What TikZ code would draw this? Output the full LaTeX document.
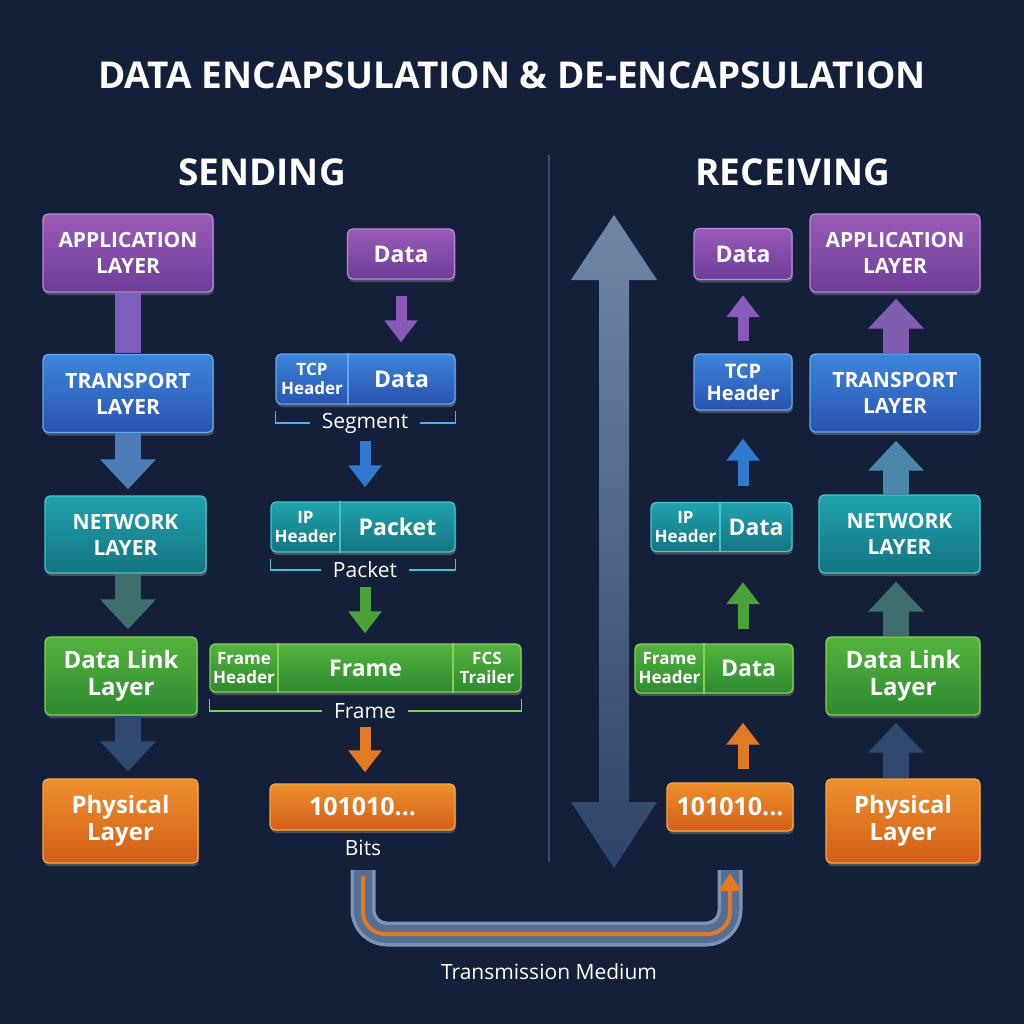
\documentclass[tikz,border=0pt]{standalone}
\usepackage{fontspec}
\setmainfont{Open Sans}
\usetikzlibrary{arrows.meta,shadows}
\definecolor{bg}{HTML}{141F3A}
\definecolor{divc}{HTML}{3A4A6C}
\definecolor{purT}{HTML}{9A5CB8}\definecolor{purB}{HTML}{6D3C97}\definecolor{purE}{HTML}{B889D6}
\definecolor{bluT}{HTML}{3D86DB}\definecolor{bluB}{HTML}{2A52B0}\definecolor{bluE}{HTML}{62A8EE}
\definecolor{teaT}{HTML}{1FA3AE}\definecolor{teaB}{HTML}{157482}\definecolor{teaE}{HTML}{45C3CC}
\definecolor{grnT}{HTML}{55B33E}\definecolor{grnB}{HTML}{2D8A30}\definecolor{grnE}{HTML}{86CF55}
\definecolor{orgT}{HTML}{EE8F2C}\definecolor{orgB}{HTML}{D35E18}\definecolor{orgE}{HTML}{F4A846}
\definecolor{purA}{HTML}{8A5AB8}\definecolor{bluA}{HTML}{2F7AD0}\definecolor{grnA}{HTML}{4BA23A}
\definecolor{orgA}{HTML}{E07A25}
\definecolor{bigT}{HTML}{7088A8}\definecolor{bigB}{HTML}{2E4468}
\definecolor{arPu}{HTML}{7F5EB0}\definecolor{arBl}{HTML}{4D7DB6}\definecolor{arTe}{HTML}{4A87A9}
\definecolor{arGr}{HTML}{3F6E6D}\definecolor{arNv}{HTML}{2F4A70}
\definecolor{pipeE}{HTML}{7C94B6}\definecolor{pipeM}{HTML}{566F95}
\newcommand\titlef{\fontsize{37}{40}\selectfont\bfseries}
\newcommand\laycap{\fontsize{21}{26}\selectfont\bfseries}
\newcommand\laymix{\fontsize{24}{27}\selectfont\bfseries}
\newcommand\boxtx{\fontsize{23}{26}\selectfont\bfseries}
\newcommand\hdtx{\fontsize{17}{19}\selectfont\bfseries}
\newcommand\rhdtx{\fontsize{20}{22}\selectfont\bfseries}
\newcommand\bitstx{\fontsize{25}{28}\selectfont\bfseries}
\newcommand\labtx{\fontsize{21}{24}\selectfont}
\newcommand\medtx{\fontsize{21}{24}\selectfont}
\tikzset{
  lbox/.style={rounded corners=5pt, line width=1.3pt, inner sep=0pt, align=center, text=white,
    drop shadow={opacity=.5, shadow xshift=1pt, shadow yshift=-3pt}},
  purp/.style={draw=purE, top color=purT, bottom color=purB},
  blu/.style={draw=bluE, top color=bluT, bottom color=bluB},
  tea/.style={draw=teaE, top color=teaT, bottom color=teaB},
  grn/.style={draw=grnE, top color=grnT, bottom color=grnB},
  org/.style={draw=orgE, top color=orgT, bottom color=orgB},
  intx/.style={text=white, align=center, inner sep=0pt},
  tlab/.style={font=\labtx, text=white, inner xsep=12pt, inner ysep=1pt},
  brk/.style={line width=1.5pt},
  sep/.style={line width=1.3pt},
  layarr/.style={line width=26pt, -{Triangle[width=54pt,length=30pt]}},
  smarr/.style={line width=11pt, -{Triangle[width=32pt,length=22pt]}},
}
\begin{document}
\begin{tikzpicture}[x=1pt, y=-1pt, line join=round]
\fill[bg] (0,0) rectangle (1024,1024);
% headings
\node[font=\titlef, text=white] (ttl) at (512,75) {DATA ENCAPSULATION \& DE-ENCAPSULATION};
\node[font=\titlef, text=white] (snd) at (262,172) {SENDING};
\node[font=\titlef, text=white] (rcv) at (793,172) {RECEIVING};
% divider and big double arrow
\draw[divc, line width=2pt] (549,155) -- (549,862);
\shade[top color=bigT, bottom color=bigB]
  (614,215) -- (657,280) -- (629,280) -- (629,802) -- (657,802) -- (614,868)
  -- (571,802) -- (599,802) -- (599,280) -- (571,280) -- cycle;
% sending layers
\node[lbox, purp, minimum width=170pt, minimum height=78pt, font=\laycap] (app) at (128,253) {APPLICATION\\LAYER};
\node[lbox, blu, minimum width=170pt, minimum height=78pt, font=\laycap] (trans) at (128,393.5) {TRANSPORT\\LAYER};
\node[lbox, tea, minimum width=161pt, minimum height=77pt, font=\laycap] (net) at (125.5,534.5) {NETWORK\\LAYER};
\node[lbox, grn, minimum width=152pt, minimum height=78pt, font=\laymix] (dl) at (121,676) {Data Link\\Layer};
\node[lbox, org, minimum width=155pt, minimum height=84pt, font=\laymix] (phy) at (120.5,821) {Physical\\Layer};
\draw[line width=26pt, purA!85!bluA] ([yshift=-.7pt]app.south) -- ([yshift=.7pt]trans.north);
\draw[layarr, arBl, shorten >=6pt] (trans.south) -- (trans.south |- net.north);
\draw[layarr, arGr, shorten >=7pt] (app |- net.south) -- (app |- dl.north);
\draw[layarr, arNv, shorten >=7pt] (app |- dl.south) -- (app |- phy.north);
% sending units
\node[lbox, purp, minimum width=107pt, minimum height=50pt, font=\boxtx] (sdata) at (401,254) {Data};
\node[lbox, blu, minimum width=179pt, minimum height=50pt] (sseg) at (365.5,379) {};
\node[intx, font=\hdtx] (ssegh) at (312,379) {TCP\\Header};
\node[intx, font=\boxtx] (ssegd) at (401.5,379) {Data};
\draw[sep, bluE] (348,0 |- sseg.north) -- (348,0 |- sseg.south);
\node[tlab] (ssegl) at (365,423) {Segment};
\draw[brk, bluE] ([yshift=-6pt]sseg.south west) |- (ssegl.west);
\draw[brk, bluE] ([yshift=-6pt]sseg.south east) |- (ssegl.east);

\node[lbox, tea, minimum width=184pt, minimum height=50pt] (spkt) at (363,527) {};
\node[intx, font=\hdtx] (spkth) at (305.5,527) {IP\\Header};
\node[intx, font=\boxtx] (spktd) at (397.5,527) {Packet};
\draw[sep, teaE] (340,0 |- spkt.north) -- (340,0 |- spkt.south);
\node[tlab] (spktl) at (365,570) {Packet};
\draw[brk, teaE] ([yshift=-6pt]spkt.south west) |- (spktl.west);
\draw[brk, teaE] ([yshift=-6pt]spkt.south east) |- (spktl.east);

\node[lbox, grn, minimum width=311pt, minimum height=48pt] (sfrm) at (365.5,668) {};
\node[intx, font=\hdtx] (sfrmh) at (244,668) {Frame\\Header};
\node[intx, font=\boxtx] (sfrmd) at (365.5,668) {Frame};
\node[intx, font=\hdtx] (sfrmt) at (487,668) {FCS\\Trailer};
\draw[sep, grnE] (278,0 |- sfrm.north) -- (278,0 |- sfrm.south);
\draw[sep, grnE] (453,0 |- sfrm.north) -- (453,0 |- sfrm.south);
\node[tlab] (sfrml) at (365,711) {Frame};
\draw[brk, grnE] ([yshift=-6pt]sfrm.south west) |- (sfrml.west);
\draw[brk, grnE] ([yshift=-6pt]sfrm.south east) |- (sfrml.east);

\node[lbox, org, minimum width=185pt, minimum height=46pt, font=\bitstx] (sbits) at (362.5,807) {101010...};
\node[tlab] (sbitsl) at (363,848) {Bits};

\draw[smarr, purA, shorten <=16pt, shorten >=11pt] (sdata.south) -- (sdata.south |- sseg.north);
\draw[smarr, bluA, shorten <=7pt, shorten >=14pt] (ssegl.south) -- (ssegl.south |- spkt.north);
\draw[smarr, grnA, shorten <=8pt, shorten >=10pt] (spktl.south) -- (spktl.south |- sfrm.north);
\draw[smarr, orgA, shorten <=7pt, shorten >=11pt] (sfrml.south) -- (sfrml.south |- sbits.north);
% receiving units
\node[lbox, purp, minimum width=98pt, minimum height=51pt, font=\boxtx] (rdata) at (743,254) {Data};
\node[lbox, blu, minimum width=98pt, minimum height=56pt, font=\rhdtx] (rtcp) at (743,382) {TCP\\Header};
\node[lbox, tea, minimum width=141pt, minimum height=49pt] (rpkt) at (721.5,527) {};
\node[intx, font=\hdtx] (rpkth) at (685.5,527) {IP\\Header};
\node[intx, font=\boxtx] (rpktd) at (756,527) {Data};
\draw[sep, teaE] (720,0 |- rpkt.north) -- (720,0 |- rpkt.south);
\node[lbox, grn, minimum width=158pt, minimum height=49pt] (rfrm) at (714,668.5) {};
\node[intx, font=\hdtx] (rfrmh) at (669.5,668) {Frame\\Header};
\node[intx, font=\boxtx] (rfrmd) at (748.5,668) {Data};
\draw[sep, grnE] (704,0 |- rfrm.north) -- (704,0 |- rfrm.south);
\node[lbox, org, minimum width=126pt, minimum height=48pt, font=\bitstx] (rbits) at (730,807) {101010...};

\draw[smarr, purA, shorten <=12pt, shorten >=15pt] (rtcp.north) -- (rtcp.north |- rdata.south);
\draw[smarr, bluA, shorten <=16pt, shorten >=28pt] (rdata |- rpkt.north) -- (rdata |- rtcp.south);
\draw[smarr, grnA, shorten <=14pt, shorten >=30pt] (rdata |- rfrm.north) -- (rdata |- rpkt.south);
\draw[smarr, orgA, shorten <=13pt, shorten >=29pt] (rdata |- rbits.north) -- (rdata |- rfrm.south);
% receiving layers
\node[lbox, purp, minimum width=170pt, minimum height=78pt, font=\laycap] (rapp) at (895,253) {APPLICATION\\LAYER};
\node[lbox, blu, minimum width=170pt, minimum height=78pt, font=\laycap] (rtrans) at (895,393) {TRANSPORT\\LAYER};
\node[lbox, tea, minimum width=161pt, minimum height=78pt, font=\laycap] (rnet) at (899.5,534) {NETWORK\\LAYER};
\node[lbox, grn, minimum width=154pt, minimum height=78pt, font=\laymix] (rdl) at (903,676) {Data Link\\Layer};
\node[lbox, org, minimum width=154pt, minimum height=84pt, font=\laymix] (rphy) at (903,821) {Physical\\Layer};
\draw[layarr, arPu, shorten >=6pt] (896,0 |- rtrans.north) -- (896,0 |- rapp.south);
\draw[layarr, arTe, shorten >=8pt] (896,0 |- rnet.north) -- (896,0 |- rtrans.south);
\draw[layarr, arGr, shorten >=8pt] (896,0 |- rdl.north) -- (896,0 |- rnet.south);
\draw[layarr, arNv, shorten >=7pt] (896,0 |- rphy.north) -- (896,0 |- rdl.south);
% transmission medium
\coordinate (tx) at (sbitsl.south |- 0,870);
\coordinate (rx) at (rbits.south |- 0,870);
\draw[line width=25pt, pipeE, rounded corners=24pt] (tx) |- (549,934) -| (rx);
\draw[line width=18pt, pipeM, rounded corners=24pt] (tx) |- (549,934) -| (rx);
\draw[line width=4pt, orgA, rounded corners=22pt, -{Triangle[width=22pt,length=18pt]}]
  ([yshift=-6pt]tx) |- (549,934) -| ([yshift=-3pt]rx);
\node[font=\medtx, text=white] (tm) at (549,972) {Transmission Medium};
\end{tikzpicture}
\end{document}
